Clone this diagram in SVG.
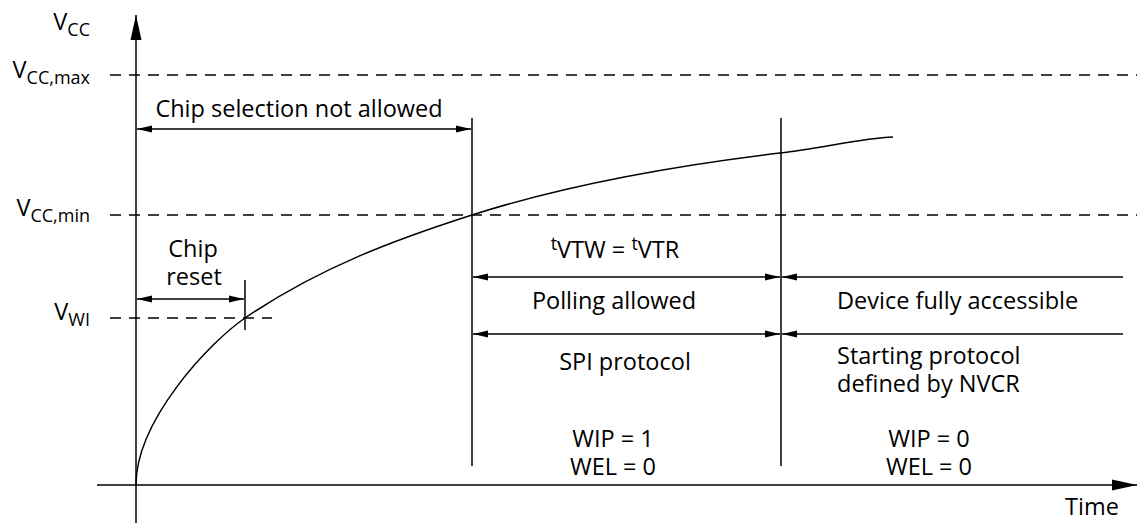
<svg xmlns="http://www.w3.org/2000/svg" width="1137" height="523" viewBox="0 0 1137 523">
<style>
text{font-family:"Open Sans","Noto Sans","Liberation Sans",sans-serif;font-size:23.5px;fill:#000}
.sub{font-size:18px}
.ln{stroke:#000;stroke-width:1.5;fill:none}
.dash{stroke:#000;stroke-width:1.3;fill:none;stroke-dasharray:11 8}
.dim{stroke:#000;stroke-width:1.5;fill:none;marker-end:url(#ah)}
.dim2{stroke:#000;stroke-width:1.5;fill:none;marker-end:url(#ah);marker-start:url(#ah)}
</style>
<defs>
<marker id="ah" markerUnits="userSpaceOnUse" markerWidth="16" markerHeight="8" refX="15" refY="4" orient="auto-start-reverse">
<path d="M0,0.5 L15,4 L0,7.5 z" fill="#000"/>
</marker>
<marker id="ax" markerUnits="userSpaceOnUse" markerWidth="26" markerHeight="12" refX="25" refY="6" orient="auto">
<path d="M0,0.5 L25,6 L0,11.5 z" fill="#000"/>
</marker>
</defs>
<g id="axes">
<line class="ln" x1="136" y1="523" x2="136" y2="15" marker-end="url(#ax)"/>
<line class="ln" x1="97" y1="485" x2="1137" y2="485" marker-end="url(#ax)"/>
</g>
<g id="levels">
<line class="dash" x1="110" y1="75" x2="1137" y2="75"/>
<line class="dash" x1="110" y1="215" x2="1137" y2="215"/>
<line class="dash" x1="110" y1="318" x2="272" y2="318"/>
</g>
<g id="labels">
<text x="90" y="30" text-anchor="end">V<tspan class="sub" dy="6">CC</tspan></text>
<text x="90" y="78" text-anchor="end">V<tspan class="sub" dy="6">CC,max</tspan></text>
<text x="90" y="216" text-anchor="end">V<tspan class="sub" dy="6">CC,min</tspan></text>
<text x="90" y="320" text-anchor="end">V<tspan class="sub" dy="6">WI</tspan></text>
<text x="1065" y="515">Time</text>
</g>
<g id="curve">
<path class="ln" d="M136,485 C136,420 210,342 245,318 C320,267 397,239 472,215 C572,183 680,165 780,153 C820,149 860,138 893,137"/>
</g>
<g id="markers">
<line class="ln" x1="472" y1="118" x2="472" y2="466"/>
<line class="ln" x1="781" y1="118" x2="781" y2="466"/>
<line class="ln" x1="245" y1="280" x2="245" y2="330"/>
</g>
<g id="connectors">
<line class="dim2" x1="137" y1="129" x2="471" y2="129"/>
<line class="dim2" x1="137" y1="299" x2="244" y2="299"/>
<line class="dim2" x1="473" y1="277" x2="780" y2="277"/>
<line class="dim2" x1="473" y1="334" x2="780" y2="334"/>
<line class="dim" x1="1123" y1="277" x2="782" y2="277"/>
<line class="dim" x1="1123" y1="334" x2="782" y2="334"/>
</g>
<g id="chip-selection"><text x="299" y="117" text-anchor="middle">Chip selection not allowed</text></g>
<g id="chip-reset">
<text x="193" y="257" text-anchor="middle">Chip</text>
<text x="194" y="285" text-anchor="middle">reset</text>
</g>
<g id="polling">
<text x="615" y="258" text-anchor="middle"><tspan class="sub" dy="-8">t</tspan><tspan dy="8">VTW = </tspan><tspan class="sub" dy="-8">t</tspan><tspan dy="8">VTR</tspan></text>
<text x="614" y="309" text-anchor="middle">Polling allowed</text>
<text x="625" y="370" text-anchor="middle">SPI protocol</text>
<text x="613" y="447" text-anchor="middle">WIP = 1</text>
<text x="613" y="475" text-anchor="middle">WEL = 0</text>
</g>
<g id="device">
<text x="837" y="309">Device fully accessible</text>
<text x="837" y="364">Starting protocol</text>
<text x="837" y="392">defined by NVCR</text>
<text x="929" y="447" text-anchor="middle">WIP = 0</text>
<text x="929" y="475" text-anchor="middle">WEL = 0</text>
</g>
</svg>
